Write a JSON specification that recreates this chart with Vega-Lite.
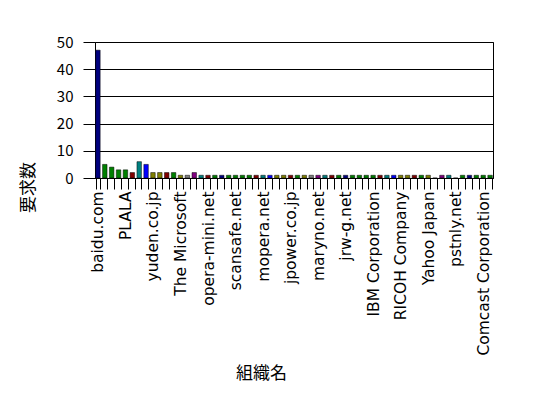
{
  "$schema": "https://vega.github.io/schema/vega-lite/v6.json",
  "autosize": "none",
  "width": 398,
  "height": 136,
  "padding": {"left": 95, "top": 42, "right": 55, "bottom": 220},
  "background": "white",
  "config": {
    "font": "Noto Sans CJK JP",
    "view": {"stroke": "black", "strokeWidth": 1},
    "axis": {"labelColor": "black", "titleColor": "black", "titleFontWeight": "normal"}
  },
  "data": {
    "values": [
      {"org": "baidu.com", "n": 47},
      {"org": "org-01", "n": 5},
      {"org": "org-02", "n": 4},
      {"org": "org-03", "n": 3},
      {"org": "PLALA", "n": 3},
      {"org": "org-05", "n": 2},
      {"org": "org-06", "n": 6},
      {"org": "org-07", "n": 5},
      {"org": "yuden.co.jp", "n": 2},
      {"org": "org-09", "n": 2},
      {"org": "org-10", "n": 2},
      {"org": "org-11", "n": 2},
      {"org": "The Microsoft", "n": 1},
      {"org": "org-13", "n": 1},
      {"org": "org-14", "n": 2},
      {"org": "org-15", "n": 1},
      {"org": "opera-mini.net", "n": 1},
      {"org": "org-17", "n": 1},
      {"org": "org-18", "n": 1},
      {"org": "org-19", "n": 1},
      {"org": "scansafe.net", "n": 1},
      {"org": "org-21", "n": 1},
      {"org": "org-22", "n": 1},
      {"org": "org-23", "n": 1},
      {"org": "mopera.net", "n": 1},
      {"org": "org-25", "n": 1},
      {"org": "org-26", "n": 1},
      {"org": "org-27", "n": 1},
      {"org": "jpower.co.jp", "n": 1},
      {"org": "org-29", "n": 1},
      {"org": "org-30", "n": 1},
      {"org": "org-31", "n": 1},
      {"org": "maryno.net", "n": 1},
      {"org": "org-33", "n": 1},
      {"org": "org-34", "n": 1},
      {"org": "org-35", "n": 1},
      {"org": "jrw-g.net", "n": 1},
      {"org": "org-37", "n": 1},
      {"org": "org-38", "n": 1},
      {"org": "org-39", "n": 1},
      {"org": "IBM Corporation", "n": 1},
      {"org": "org-41", "n": 1},
      {"org": "org-42", "n": 1},
      {"org": "org-43", "n": 1},
      {"org": "RICOH Company", "n": 1},
      {"org": "org-45", "n": 1},
      {"org": "org-46", "n": 1},
      {"org": "org-47", "n": 1},
      {"org": "Yahoo Japan", "n": 1},
      {"org": "org-49", "n": 0},
      {"org": "org-50", "n": 1},
      {"org": "org-51", "n": 1},
      {"org": "pstnly.net", "n": 0},
      {"org": "org-53", "n": 1},
      {"org": "org-54", "n": 1},
      {"org": "org-55", "n": 1},
      {"org": "Comcast Corporation", "n": 1},
      {"org": "org-57", "n": 1}
    ]
  },
  "mark": {"type": "bar", "stroke": "black", "strokeWidth": 0.5},
  "encoding": {
    "x": {
      "field": "org",
      "type": "nominal",
      "sort": null,
      "scale": {"paddingInner": 0.35, "paddingOuter": 0.1},
      "axis": {
        "title": "組織名",
        "titleFontSize": 17,
        "titlePadding": 10,
        "titleX": 166,
        "labelAngle": -90,
        "labelFontSize": 15.5,
        "labelFont": "DejaVu Sans",
        "labelPadding": 2,
        "labelOverlap": false,
        "labelExpr": "indexof(['baidu.com','PLALA','yuden.co.jp','The Microsoft','opera-mini.net','scansafe.net','mopera.net','jpower.co.jp','maryno.net','jrw-g.net','IBM Corporation','RICOH Company','Yahoo Japan','pstnly.net','Comcast Corporation'], datum.label) >= 0 ? datum.label : ''",
        "tickBand": "extent",
        "tickSize": 11,
        "tickColor": "black",
        "domainColor": "black"
      }
    },
    "y": {
      "field": "n",
      "type": "quantitative",
      "scale": {"domain": [0, 50]},
      "axis": {
        "title": "要求数",
        "titleFontSize": 17,
        "titleAngle": -90,
        "titleX": -58,
        "titleY": 145,
        "titleAlign": "center",
        "values": [0, 10, 20, 30, 40, 50],
        "labelFontSize": 15,
        "labelPadding": 10,
        "labelOverlap": false,
        "ticks": true,
        "tickSize": 12,
        "tickColor": "black",
        "domain": false,
        "gridColor": "black",
        "gridOpacity": 1,
        "gridWidth": 1
      }
    },
    "color": {
      "field": "org",
      "type": "nominal",
      "sort": null,
      "legend": null,
      "scale": {"range": ["#000080", "#008000", "#008000", "#008000", "#008000", "#800000", "#008080", "#0000FF", "#808000", "#808000", "#800000", "#008000", "#808000", "#808080", "#800080", "#008080", "#800000", "#008000"]}
    }
  }
}
